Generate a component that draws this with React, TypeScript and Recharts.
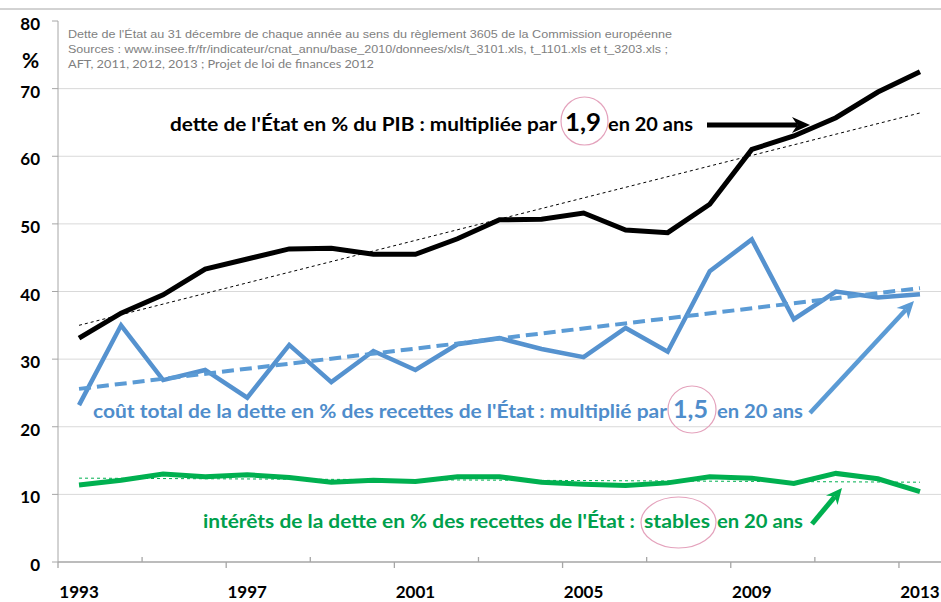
import { LineChart, Line, XAxis, YAxis, ReferenceLine } from "recharts";

const years = [
  1993, 1994, 1995, 1996, 1997, 1998, 1999, 2000, 2001, 2002, 2003,
  2004, 2005, 2006, 2007, 2008, 2009, 2010, 2011, 2012, 2013,
];

// dette de l'État en % du PIB
const detteEtatPib = [
  33.1, 36.8, 39.5, 43.3, 44.8, 46.3, 46.4, 45.5, 45.5, 47.8, 50.6,
  50.7, 51.6, 49.1, 48.7, 52.9, 61.0, 63.0, 65.7, 69.5, 72.5,
];

// coût total de la dette en % des recettes de l'État
const coutTotalDette = [
  23.2, 35.0, 26.9, 28.4, 24.3, 32.1, 26.6, 31.2, 28.4, 32.2, 33.1,
  31.5, 30.3, 34.6, 31.1, 43.0, 47.7, 35.9, 40.0, 39.1, 39.6,
];

// intérêts de la dette en % des recettes de l'État
const interetsDette = [
  11.4, 12.1, 13.0, 12.6, 12.9, 12.5, 11.8, 12.1, 11.9, 12.6, 12.6,
  11.8, 11.5, 11.3, 11.7, 12.6, 12.4, 11.6, 13.1, 12.3, 10.4,
];

// linear trend lines: value in 1993, value in 2013
const tendanceDette = [35.0, 66.4];
const tendanceCout = [25.6, 40.5];
const tendanceInterets = [12.4, 11.8];

const yTicks = [0, 10, 20, 30, 40, 50, 60, 70, 80];
const gridValues = [10, 20, 30, 40, 50, 60, 70];
const yearLabels = [1993, 1997, 2001, 2005, 2009, 2013];
const tickMarks = [1992.5, 1994.5, 1996.5, 1998.5, 2000.5, 2002.5, 2004.5, 2006.5, 2008.5, 2010.5, 2012.5];

const headerLines = [
  "Dette de l'État au 31 décembre de chaque année au sens du règlement 3605 de la Commission européenne",
  "Sources : www.insee.fr/fr/indicateur/cnat_annu/base_2010/donnees/xls/t_3101.xls, t_1101.xls et t_3203.xls ;",
  "AFT, 2011, 2012, 2013 ; Projet de loi de finances 2012",
];

const last = years.length - 1;
const trend = (pair: number[], i: number) => (i === 0 ? pair[0] : i === last ? pair[1] : null);

const data = years.map((year, i) => ({
  year,
  dette: detteEtatPib[i],
  cout: coutTotalDette[i],
  interets: interetsDette[i],
  tDette: trend(tendanceDette, i),
  tCout: trend(tendanceCout, i),
  tInterets: trend(tendanceInterets, i),
}));

const FONT = "Lato, 'Open Sans', sans-serif";
const BLUE = "#5592cf";
const BLUE_TEXT = "#4f8dcb";
const GREEN = "#00b050";
const GREEN_TEXT = "#00a04c";
const PINK = "#e4a2bc";

const xTickSet = new Set([...tickMarks, ...yearLabels]);
const xTicks = Array.from(xTickSet).sort((a, b) => a - b);

function XTick(props: any) {
  const { x, y, payload } = props;
  const v = payload.value as number;
  if (Number.isInteger(v)) {
    return (
      <text x={x} y={y + 36} textAnchor="middle" fontFamily={FONT} fontWeight={700} fontSize={17} fill="#000">
        {v}
      </text>
    );
  }
  const down = (v - 1992.5) % 4 === 0;
  return <line x1={x} x2={x} y1={y} y2={down ? y + 6 : y - 5} stroke="#a6a6a6" strokeWidth={1.3} />;
}

function YTick(props: any) {
  const { x, y, payload } = props;
  return (
    <text x={x} y={y + 9} textAnchor="end" fontFamily={FONT} fontWeight={700} fontSize={17} fill="#000">
      {payload.value}
    </text>
  );
}

function Arrow({ x1, y1, x2, y2, color, width, head = 17, half = 8 }: any) {
  const dx = x2 - x1;
  const dy = y2 - y1;
  const len = Math.sqrt(dx * dx + dy * dy);
  const ux = dx / len;
  const uy = dy / len;
  const bx = x2 - ux * head;
  const by = y2 - uy * head;
  const nx = -uy;
  const ny = ux;
  const mx = x2 - ux * head * 0.7;
  const my = y2 - uy * head * 0.7;
  const pts = [
    [x2, y2],
    [bx + nx * half, by + ny * half],
    [mx, my],
    [bx - nx * half, by - ny * half],
  ]
    .map((p) => p.join(","))
    .join(" ");
  return (
    <g>
      <line x1={x1} y1={y1} x2={mx} y2={my} stroke={color} strokeWidth={width} />
      <polygon points={pts} fill={color} />
    </g>
  );
}

function Annotations() {
  return (
    <svg width={941} height={602} style={{ position: "absolute", left: 0, top: 0, pointerEvents: "none" }}>
      <line x1={0} x2={941} y1={9} y2={9} stroke="#a6a6a6" strokeWidth={1} />
      <text x={22} y={68} fontFamily={FONT} fontWeight={700} fontSize={21} fill="#000">
        %
      </text>

      <text x={68} y={38} fontFamily="'Liberation Sans', Arial, sans-serif" fontSize={11} fill="#7f7f7f" textLength={604} lengthAdjust="spacingAndGlyphs">
        {headerLines[0]}
      </text>
      <text x={68} y={53} fontFamily="'Liberation Sans', Arial, sans-serif" fontSize={11} fill="#7f7f7f" textLength={600} lengthAdjust="spacingAndGlyphs">
        {headerLines[1]}
      </text>
      <text x={68} y={68} fontFamily={FONT} fontSize={11.5} fill="#7f7f7f" textLength={306} lengthAdjust="spacingAndGlyphs">
        {headerLines[2]}
      </text>

      {/* dette / PIB */}
      <g fontFamily={FONT} fontWeight={700} fill="#000">
        <text x={170} y={131} fontSize={19} textLength={387} lengthAdjust="spacingAndGlyphs">
          dette de l'État en % du PIB : multipliée par
        </text>
        <text x={565} y={131} fontSize={25} textLength={36} lengthAdjust="spacingAndGlyphs">
          1,9
        </text>
        <text x={608} y={131} fontSize={19} textLength={85} lengthAdjust="spacingAndGlyphs">
          en 20 ans
        </text>
      </g>
      <ellipse cx={584.5} cy={121} rx={23.5} ry={24} fill="none" stroke={PINK} strokeWidth={1.2} />
      <Arrow x1={707} y1={125} x2={810} y2={125} color="#000" width={5} head={18} half={8} />

      {/* coût total */}
      <g fontFamily={FONT} fontWeight={700} fill={BLUE_TEXT}>
        <text x={93} y={418} fontSize={19} textLength={574} lengthAdjust="spacingAndGlyphs">
          coût total de la dette en % des recettes de l'État : multiplié par
        </text>
        <text x={673} y={418} fontSize={25} textLength={35} lengthAdjust="spacingAndGlyphs">
          1,5
        </text>
        <text x={717} y={418} fontSize={19} textLength={86} lengthAdjust="spacingAndGlyphs">
          en 20 ans
        </text>
      </g>
      <ellipse cx={692} cy={409.5} rx={24} ry={23.5} fill="none" stroke={PINK} strokeWidth={1.2} />
      <Arrow x1={810} y1={413} x2={914} y2={301} color="#5b9bd5" width={4.5} head={17} half={8} />

      {/* intérêts */}
      <g fontFamily={FONT} fontWeight={700} fill={GREEN_TEXT}>
        <text x={203} y={528} fontSize={19} textLength={432} lengthAdjust="spacingAndGlyphs">
          intérêts de la dette en % des recettes de l'État :
        </text>
        <text x={644} y={528} fontSize={19} textLength={66} lengthAdjust="spacingAndGlyphs">
          stables
        </text>
        <text x={717} y={528} fontSize={19} textLength={86} lengthAdjust="spacingAndGlyphs">
          en 20 ans
        </text>
      </g>
      <ellipse cx={678.5} cy={522.5} rx={37.5} ry={25.5} fill="none" stroke={PINK} strokeWidth={1.2} />
      <Arrow x1={812} y1={524} x2={842} y2={488} color={GREEN} width={5} head={16} half={7.5} />
    </svg>
  );
}

export default function App() {
  return (
    <div style={{ position: "absolute", left: 0, top: 0, width: 941, height: 602, background: "#fff" }}>
      <LineChart width={941} height={602} data={data} margin={{ top: 21, right: 0, bottom: 0, left: 0 }}>
        <XAxis
          dataKey="year"
          type="number"
          domain={[1992.5, 2013.5]}
          ticks={xTicks}
          interval={0}
          tickLine={false}
          tickSize={0}
          tickMargin={0}
          tick={<XTick />}
          height={40}
          axisLine={{ stroke: "#a6a6a6", strokeWidth: 1.5 }}
          allowDataOverflow
        />
        <YAxis
          domain={[0, 80]}
          ticks={yTicks}
          interval={0}
          width={58}
          tickSize={6}
          tickMargin={12}
          tick={<YTick />}
          tickLine={{ stroke: "#a6a6a6" }}
          axisLine={{ stroke: "#a6a6a6" }}
        />
        {gridValues.map((v) => (
          <ReferenceLine key={v} y={v} stroke="#d9d9d9" strokeWidth={1} />
        ))}
        <Line dataKey="dette" stroke="#000" strokeWidth={5} dot={false} isAnimationActive={false} />
        <Line dataKey="cout" stroke={BLUE} strokeWidth={4.5} dot={false} isAnimationActive={false} />
        <Line dataKey="interets" stroke={GREEN} strokeWidth={5} dot={false} isAnimationActive={false} />
        <Line dataKey="tDette" connectNulls stroke="#000" strokeWidth={1} strokeDasharray="3 3" dot={false} isAnimationActive={false} />
        <Line dataKey="tCout" connectNulls stroke="#5b9bd5" strokeWidth={4} strokeDasharray="12 6" dot={false} isAnimationActive={false} />
        <Line dataKey="tInterets" connectNulls stroke={GREEN} strokeWidth={1} strokeDasharray="3 3" dot={false} isAnimationActive={false} />
      </LineChart>
      <Annotations />
    </div>
  );
}
